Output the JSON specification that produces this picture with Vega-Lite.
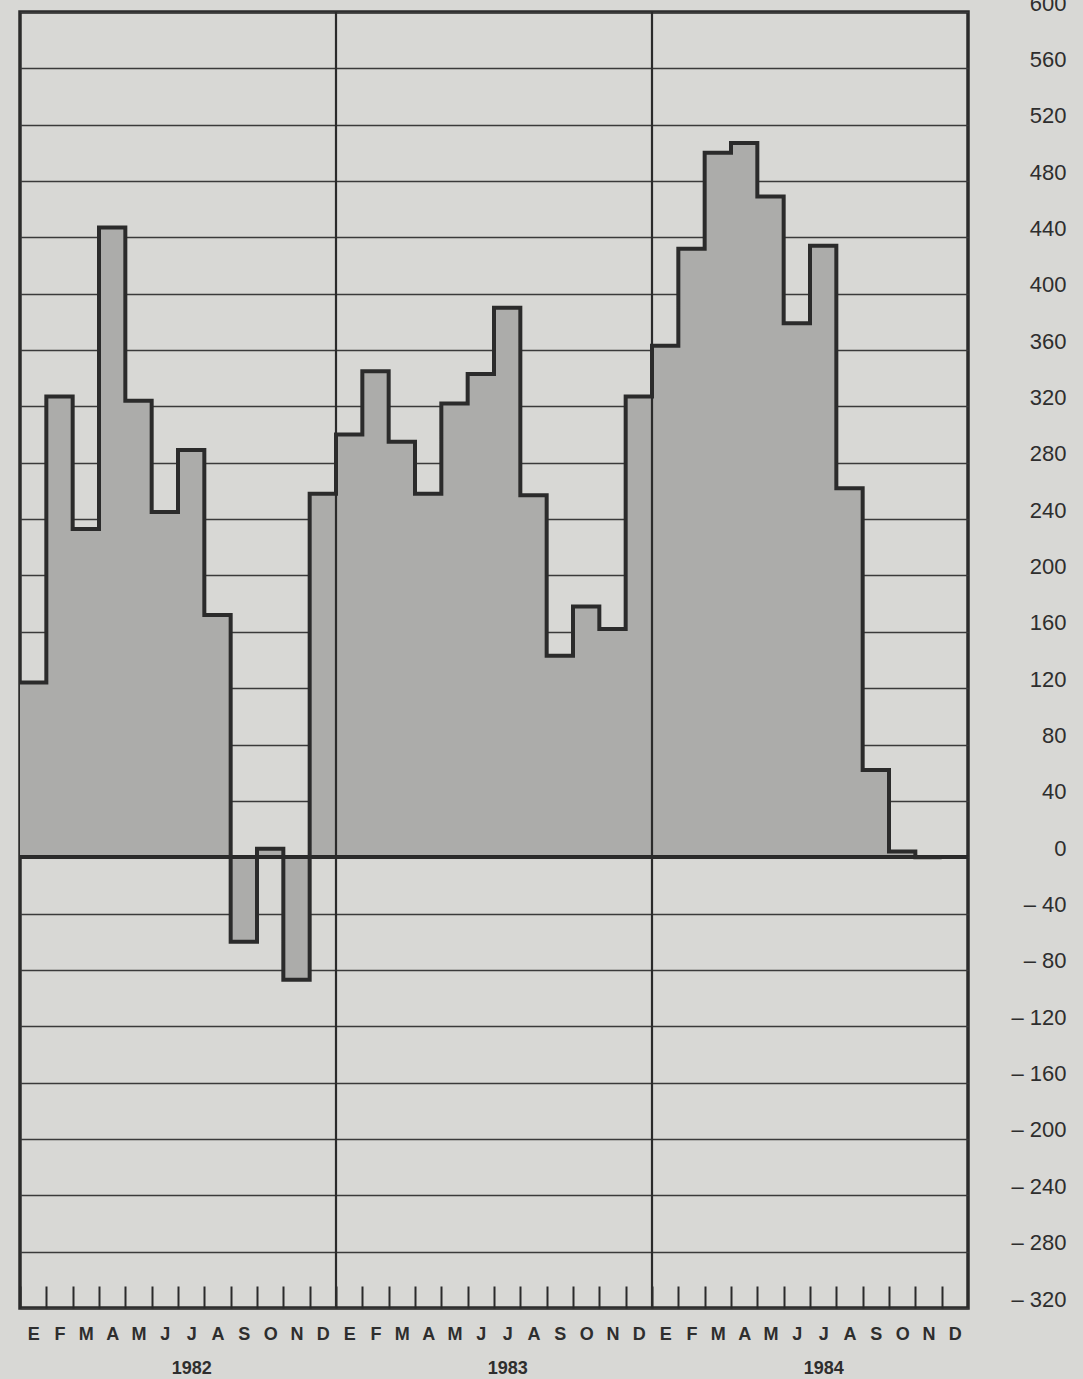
{
  "$schema": "https://vega.github.io/schema/vega-lite/v6.json",
  "width": 948,
  "height": 1296,
  "autosize": {"type": "none"},
  "padding": {"left": 20, "top": 12, "right": 115, "bottom": 71},
  "background": "#d8d8d5",
  "config": {
    "view": {"stroke": "#2b2b2b", "strokeWidth": 3.5},
    "font": "Liberation Sans",
    "axisX": {
      "grid": false,
      "domain": false,
      "ticks": true,
      "tickSize": -22,
      "tickWidth": 2,
      "tickColor": "#2b2b2b",
      "labelOffset": 13.2,
      "labelPadding": 39,
      "labelFlush": false,
      "labelOverlap": false,
      "labelFont": "Liberation Sans",
      "labelFontSize": 18,
      "labelFontWeight": "bold",
      "labelColor": "#2e2e2e",
      "labelLineHeight": 34
    },
    "axisY": {
      "grid": true,
      "gridColor": "#3a3a3a",
      "gridWidth": 1.6,
      "gridOpacity": 1,
      "domain": false,
      "ticks": false,
      "labelAlign": "right",
      "labelPadding": 98,
      "labelOffset": -9,
      "labelFlush": false,
      "labelOverlap": false,
      "labelFont": "Liberation Sans",
      "labelFontSize": 22,
      "labelColor": "#2e2e2e"
    }
  },
  "data": {
    "values": [
      {"idx": 0, "mes": "E", "anio": 1982, "valor": 124},
      {"idx": 1, "mes": "F", "anio": 1982, "valor": 327},
      {"idx": 2, "mes": "M", "anio": 1982, "valor": 233},
      {"idx": 3, "mes": "A", "anio": 1982, "valor": 447},
      {"idx": 4, "mes": "M", "anio": 1982, "valor": 324},
      {"idx": 5, "mes": "J", "anio": 1982, "valor": 245},
      {"idx": 6, "mes": "J", "anio": 1982, "valor": 289},
      {"idx": 7, "mes": "A", "anio": 1982, "valor": 172},
      {"idx": 8, "mes": "S", "anio": 1982, "valor": -60},
      {"idx": 9, "mes": "O", "anio": 1982, "valor": 6},
      {"idx": 10, "mes": "N", "anio": 1982, "valor": -87},
      {"idx": 11, "mes": "D", "anio": 1982, "valor": 258},
      {"idx": 12, "mes": "E", "anio": 1983, "valor": 300},
      {"idx": 13, "mes": "F", "anio": 1983, "valor": 345},
      {"idx": 14, "mes": "M", "anio": 1983, "valor": 295},
      {"idx": 15, "mes": "A", "anio": 1983, "valor": 258},
      {"idx": 16, "mes": "M", "anio": 1983, "valor": 322},
      {"idx": 17, "mes": "J", "anio": 1983, "valor": 343},
      {"idx": 18, "mes": "J", "anio": 1983, "valor": 390},
      {"idx": 19, "mes": "A", "anio": 1983, "valor": 257},
      {"idx": 20, "mes": "S", "anio": 1983, "valor": 143},
      {"idx": 21, "mes": "O", "anio": 1983, "valor": 178},
      {"idx": 22, "mes": "N", "anio": 1983, "valor": 162},
      {"idx": 23, "mes": "D", "anio": 1983, "valor": 327},
      {"idx": 24, "mes": "E", "anio": 1984, "valor": 363},
      {"idx": 25, "mes": "F", "anio": 1984, "valor": 432},
      {"idx": 26, "mes": "M", "anio": 1984, "valor": 500},
      {"idx": 27, "mes": "A", "anio": 1984, "valor": 507},
      {"idx": 28, "mes": "M", "anio": 1984, "valor": 469},
      {"idx": 29, "mes": "J", "anio": 1984, "valor": 379},
      {"idx": 30, "mes": "J", "anio": 1984, "valor": 434},
      {"idx": 31, "mes": "A", "anio": 1984, "valor": 262},
      {"idx": 32, "mes": "S", "anio": 1984, "valor": 62},
      {"idx": 33, "mes": "O", "anio": 1984, "valor": 4},
      {"idx": 34, "mes": "N", "anio": 1984, "valor": 0},
      {"idx": 35, "mes": "D", "anio": 1984, "valor": 0}
    ]
  },
  "layer": [
    {
      "mark": {"type": "area", "interpolate": "step-after", "fill": "#acacaa", "opacity": 1},
      "encoding": {
        "x": {
          "field": "idx", "type": "quantitative",
          "scale": {"domain": [0, 36], "nice": false, "zero": false},
          "axis": {
            "title": null,
            "values": [0,1,2,3,4,5,6,7,8,9,10,11,12,13,14,15,16,17,18,19,20,21,22,23,24,25,26,27,28,29,30,31,32,33,34,35],
            "labelExpr": "datum.value % 12 == 6 ? [['E','F','M','A','M','J','J','A','S','O','N','D'][datum.value % 12], '' + (1982 + floor(datum.value / 12))] : ['E','F','M','A','M','J','J','A','S','O','N','D'][datum.value % 12]"
          }
        },
        "y": {
          "field": "valor", "type": "quantitative",
          "scale": {"domain": [-320, 600], "nice": false, "zero": false},
          "axis": {
            "title": null, "orient": "right",
            "values": [-320,-280,-240,-200,-160,-120,-80,-40,0,40,80,120,160,200,240,280,320,360,400,440,480,520,560,600],
            "labelExpr": "datum.value < 0 ? '– ' + (-datum.value) : '' + datum.value"
          }
        },
        "y2": {"datum": 0}
      }
    },
    {
      "transform": [{"filter": "datum.idx == 12 || datum.idx == 24"}],
      "mark": {"type": "rule", "stroke": "#2b2b2b", "strokeWidth": 2.2},
      "encoding": {
        "x": {
          "field": "idx", "type": "quantitative",
          "scale": {"domain": [0, 36], "nice": false, "zero": false},
          "axis": {
            "title": null,
            "values": [0,1,2,3,4,5,6,7,8,9,10,11,12,13,14,15,16,17,18,19,20,21,22,23,24,25,26,27,28,29,30,31,32,33,34,35],
            "labelExpr": "datum.value % 12 == 6 ? [['E','F','M','A','M','J','J','A','S','O','N','D'][datum.value % 12], '' + (1982 + floor(datum.value / 12))] : ['E','F','M','A','M','J','J','A','S','O','N','D'][datum.value % 12]"
          }
        }
      }
    },
    {
      "mark": {"type": "rule", "stroke": "#2b2b2b", "strokeWidth": 3},
      "encoding": {
        "y": {
          "datum": 0, "type": "quantitative",
          "scale": {"domain": [-320, 600], "nice": false, "zero": false},
          "axis": {
            "title": null, "orient": "right",
            "values": [-320,-280,-240,-200,-160,-120,-80,-40,0,40,80,120,160,200,240,280,320,360,400,440,480,520,560,600],
            "labelExpr": "datum.value < 0 ? '– ' + (-datum.value) : '' + datum.value"
          }
        }
      }
    },
    {
      "mark": {"type": "line", "interpolate": "step-after", "stroke": "#2b2b2b", "strokeWidth": 4, "strokeJoin": "miter"},
      "encoding": {
        "x": {
          "field": "idx", "type": "quantitative",
          "scale": {"domain": [0, 36], "nice": false, "zero": false},
          "axis": {
            "title": null,
            "values": [0,1,2,3,4,5,6,7,8,9,10,11,12,13,14,15,16,17,18,19,20,21,22,23,24,25,26,27,28,29,30,31,32,33,34,35],
            "labelExpr": "datum.value % 12 == 6 ? [['E','F','M','A','M','J','J','A','S','O','N','D'][datum.value % 12], '' + (1982 + floor(datum.value / 12))] : ['E','F','M','A','M','J','J','A','S','O','N','D'][datum.value % 12]"
          }
        },
        "y": {
          "field": "valor", "type": "quantitative",
          "scale": {"domain": [-320, 600], "nice": false, "zero": false},
          "axis": {
            "title": null, "orient": "right",
            "values": [-320,-280,-240,-200,-160,-120,-80,-40,0,40,80,120,160,200,240,280,320,360,400,440,480,520,560,600],
            "labelExpr": "datum.value < 0 ? '– ' + (-datum.value) : '' + datum.value"
          }
        }
      }
    }
  ]
}
